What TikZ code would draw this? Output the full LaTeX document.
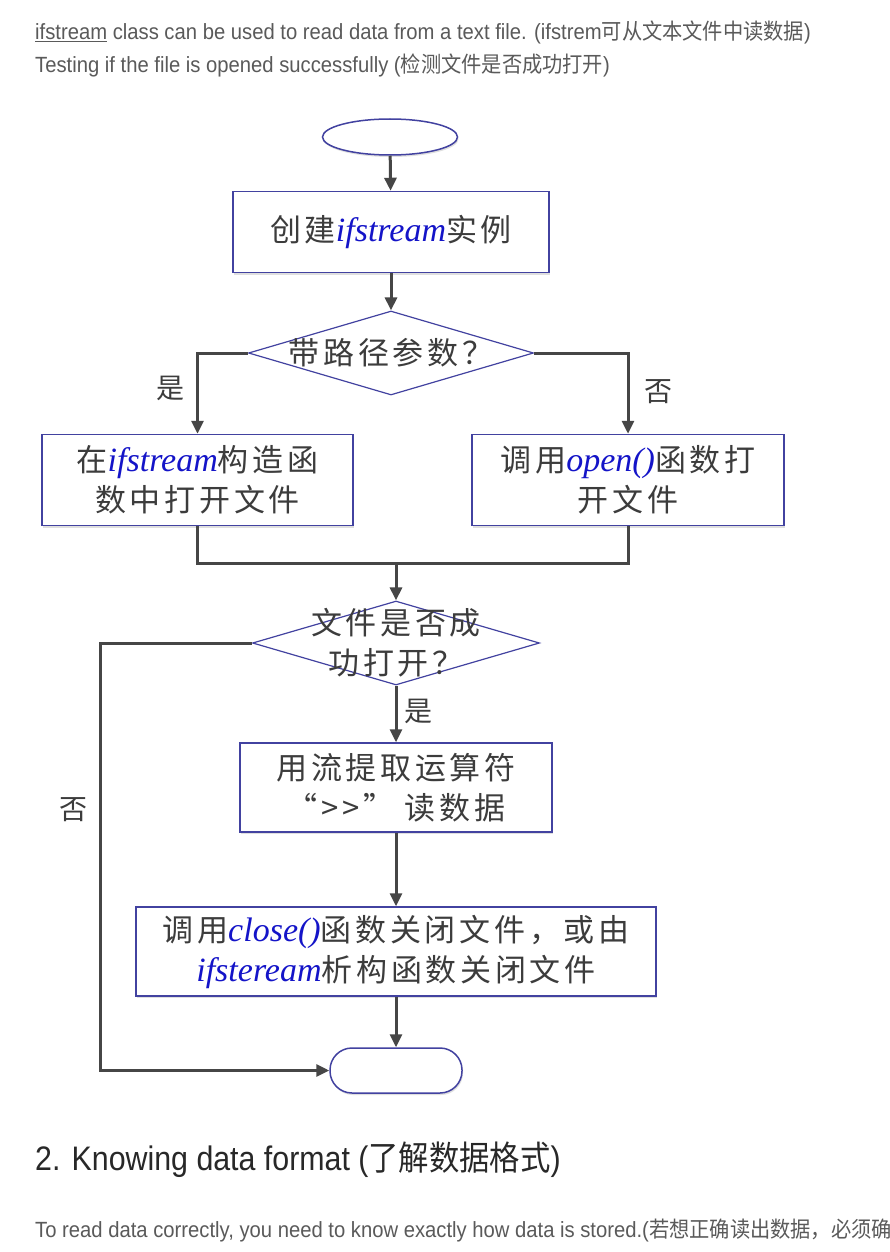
\documentclass[tikz,border=0pt]{standalone}
\usepackage{fontspec}
\setmainfont{Liberation Serif}
\newfontfamily\arial{Liberation Sans}
\newfontfamily\cjk{Noto Sans CJK SC}
\newfontfamily\cjkwide[LetterSpace=12]{Noto Sans CJK SC}
\usetikzlibrary{arrows.meta}
\usetikzlibrary{shapes.geometric}
\usetikzlibrary{shadows}

\definecolor{boxblue}{RGB}{66,66,160}
\definecolor{linegray}{RGB}{70,70,70}
\definecolor{txtgray}{RGB}{60,60,60}
\definecolor{codeblue}{RGB}{20,20,200}
\definecolor{pagegray}{RGB}{90,90,90}
\definecolor{headgray}{RGB}{40,40,40}

\newcommand{\code}[1]{{\rmfamily\itshape\fontsize{34}{40}\selectfont\color{codeblue}#1}}

\tikzset{
  flowbox/.style={rectangle, draw=boxblue, line width=1.5pt, fill=white, inner sep=0pt,
    align=center, text=txtgray, font=\cjkwide\fontsize{31}{40}\selectfont,
    drop shadow={opacity=0.25, shadow xshift=1pt, shadow yshift=-2pt}},
  terminal/.style={draw=boxblue, line width=1.5pt, fill=white, inner sep=0pt,
    drop shadow={opacity=0.25, shadow xshift=1pt, shadow yshift=-2pt}},
  decision/.style={diamond, draw=boxblue, line width=1.2pt, fill=white, inner sep=0pt},
  dtext/.style={align=center, text=txtgray, font=\cjkwide\fontsize{31}{40}\selectfont},
  branch/.style={text=txtgray, font=\cjk\fontsize{28}{32}\selectfont},
  link/.style={line width=3pt, draw=linegray},
  arr/.style={link, -{Stealth[length=13pt,width=12pt,inset=0pt]}},
  pagetext/.style={anchor=base west, inner sep=0pt, text=pagegray, xscale=0.92, transform shape,
    font=\arial\fontsize{22}{26}\selectfont},
}

\begin{document}
\begin{tikzpicture}[x=1pt,y=-1pt]
\useasboundingbox (0,0) rectangle (890,1252);
\clip (0,0) rectangle (890,1252);
\fill[white] (0,0) rectangle (890,1252);

% text above the chart
\node[pagetext] (intro) at (35,40) {\underline{ifstream} class can be used to read data from a text file. (ifstrem{\cjk 可从文本文件中读数据})};
\node[pagetext] (testing) at (35,73) {Testing if the file is opened successfully ({\cjk 检测文件是否成功打开})};

% chart
\node[terminal, ellipse, minimum width=135pt, minimum height=36pt] (start) at (390,137) {};
\node[flowbox, minimum width=316pt, minimum height=81pt] (create) at (391,232) {创建\code{ifstream}实例};
\node[decision, minimum width=285pt, minimum height=84pt] (haspath) at (391,353) {};
\node[dtext] (haspathtxt) at (haspath) {带路径参数？};
\node[flowbox, minimum width=311pt, minimum height=91pt] (inctor) at (197.5,480) {在\code{ifstream}构造函\\数中打开文件};
\node[flowbox, minimum width=312pt, minimum height=91pt] (callopen) at (628,480) {调用\code{open()}函数打\\开文件};
\coordinate (merge) at (396,563);
\node[decision, minimum width=287pt, minimum height=84pt] (opened) at (396,643) {};
\node[dtext] (openedtxt) at (opened) {文件是否成\\功打开？};
\node[flowbox, minimum width=312pt, minimum height=89pt] (readop) at (396,787.5) {用流提取运算符\\“>>” 读数据};
\node[flowbox, minimum width=520pt, minimum height=89pt] (closef) at (396,951.5) {调用\code{close()}函数关闭文件，或由\\\code{ifsteream}析构函数关闭文件};
\node[terminal, rectangle, rounded corners=22pt, minimum width=132pt, minimum height=45pt] (stop) at (396,1070.5) {};
\coordinate (back) at (100,643);

% connectors
\draw[arr] (start) -- (create);
\draw[arr] (create) -- (haspath);
\draw[arr] (haspath.west) -| node[branch, pos=0.72, left=8pt] {是} (inctor);
\draw[arr] (haspath.east) -| node[branch, pos=0.74, right=12pt] {否} (callopen);
\draw[link] (inctor.south) |- (merge) -| (callopen.south);
\draw[arr] (merge) -- (opened);
\draw[arr] (opened) -- node[branch, right=4pt, pos=0.45] {是} (readop);
\draw[arr] (readop) -- (closef);
\draw[arr] (closef) -- (stop);
\draw[arr] (opened.west) -- (back) |- node[branch, pos=0.195, left=8pt] {否} (stop.west);

% text below the chart
\node[pagetext, text=headgray, xscale=0.97, font=\arial\fontsize{34}{38}\selectfont] (heading) at (35,1170) {2. Knowing data format ({\cjk 了解数据格式})};
\node[pagetext] (stored) at (35,1237) {To read data correctly, you need to know exactly how data is stored.({\cjk 若想正确读出数据，必须确}};
\end{tikzpicture}
\end{document}
